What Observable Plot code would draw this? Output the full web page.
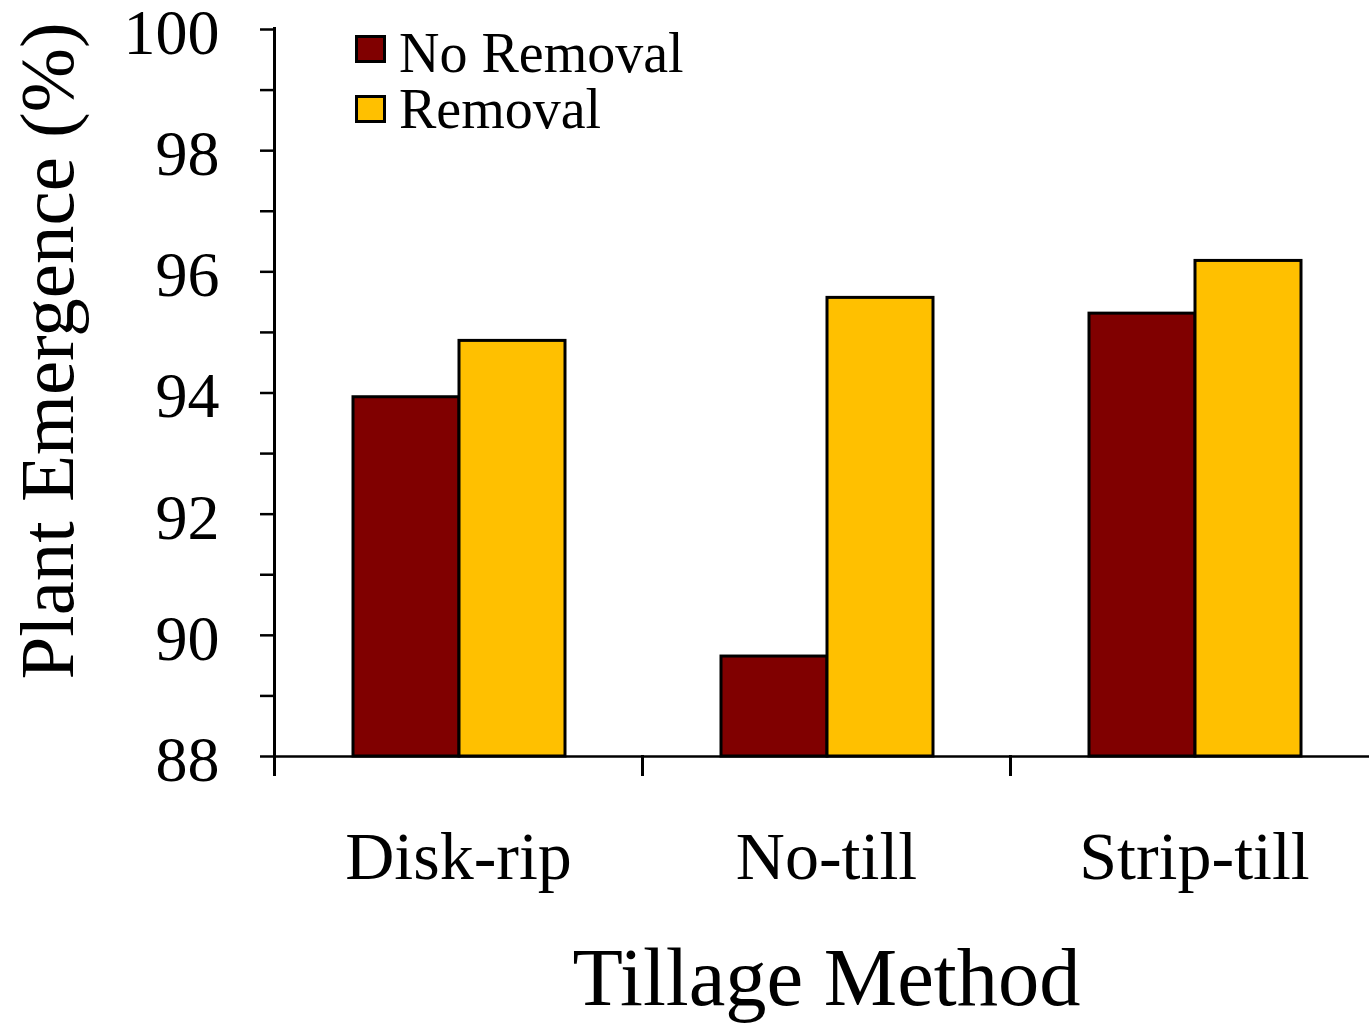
<!DOCTYPE html>
<html><head><meta charset="utf-8">
<script src="https://cdn.jsdelivr.net/npm/d3@7"></script>
<script src="https://cdn.jsdelivr.net/npm/@observablehq/plot@0.6"></script>
<style>
html,body{margin:0;padding:0;background:#fff;overflow:hidden;}
#wrap{position:relative;width:1369px;height:1023px;font-family:"Liberation Serif","Times New Roman",serif;color:#000;}
#wrap svg{position:absolute;left:0;top:0;}
.sw{position:absolute;box-sizing:border-box;width:31px;height:28px;border:3px solid #000;}
.lt{position:absolute;font-size:56px;line-height:56px;white-space:nowrap;}
</style></head><body><div id="wrap"></div>
<script>
const tillage = ["Disk-rip", "No-till", "Strip-till"];
const treatments = ["No Removal", "Removal"];
const noRemoval = [93.93, 89.65, 95.31];
const removal = [94.86, 95.57, 96.18];
const colors = ["#800000", "#FFC000"];
const yTicks = [88, 90, 92, 94, 96, 98, 100];
const yMinorTicks = [89, 91, 93, 95, 97, 99];
const yMin = 88, yMax = 100;
const yTitle = "Plant Emergence (%)";
const xTitle = "Tillage Method";

const data = [];
tillage.forEach((t, i) => {
  data.push({tillage: t, treatment: treatments[0], value: noRemoval[i]});
  data.push({tillage: t, treatment: treatments[1], value: removal[i]});
});

const W = 1369, H = 1023, mt = 29, mb = 267, ml = 273, mr = -10;
const frameH = H - mt - mb;

const chart = Plot.plot({
  width: W, height: H,
  marginTop: mt, marginBottom: mb, marginLeft: ml, marginRight: mr,
  style: {fontFamily: '"Liberation Serif", "Times New Roman", serif', color: "#000", background: "transparent", overflow: "visible"},
  fx: {domain: tillage, padding: 0, label: null},
  x: {domain: treatments, paddingInner: 0, paddingOuter: 0.734, align: 0.505, axis: null},
  y: {domain: [yMin, yMax], axis: null},
  color: {domain: treatments, range: colors},
  marks: [
    Plot.barY(data, {fx: "tillage", x: "treatment", y1: yMin, y2: "value", fill: "treatment", stroke: "#000", strokeWidth: 3}),
    Plot.ruleY([yMin], {stroke: "#000", strokeWidth: 2.5}),
    Plot.frame({anchor: "left", facetAnchor: "left", stroke: "#000", strokeWidth: 3, insetTop: -1, insetBottom: -18}),
    Plot.frame({anchor: "left", stroke: "#000", strokeWidth: 3, insetTop: frameH, insetBottom: -18}),
    Plot.axisY({ticks: yTicks, tickSize: 14, text: null, label: null, strokeWidth: 2.5}),
    Plot.axisY({ticks: yTicks, tickSize: 0, tickPadding: 55, fontSize: 64, label: null, dy: 4}),
    Plot.axisY({ticks: yMinorTicks, tickSize: 14, text: null, label: null, strokeWidth: 2.5}),
    Plot.axisFx({anchor: "bottom", tickSize: 0, tickPadding: 74, fontSize: 68, label: null}),
    Plot.axisFx({anchor: "bottom", ticks: [], label: xTitle, labelAnchor: "center", labelArrow: "none", labelOffset: 248, fontSize: 82.5}),
    Plot.text([yTitle], {facet: "super", frameAnchor: "left", textAnchor: "middle", lineAnchor: "middle", rotate: -90, fontSize: 77, dx: -226, dy: -42, fill: "#000"})
  ]
});

const wrap = document.getElementById("wrap");
wrap.appendChild(chart);

// legend
const legendTops = [35, 95];
treatments.forEach((t, i) => {
  const sw = document.createElement("div");
  sw.className = "sw";
  sw.style.left = "355px";
  sw.style.top = legendTops[i] + "px";
  sw.style.background = colors[i];
  wrap.appendChild(sw);
  const tx = document.createElement("div");
  tx.className = "lt";
  tx.style.left = "399px";
  tx.style.top = (legendTops[i] - 10 + (i === 0 ? 0 : -4)) + "px";
  tx.textContent = t;
  wrap.appendChild(tx);
});
</script></body></html>
